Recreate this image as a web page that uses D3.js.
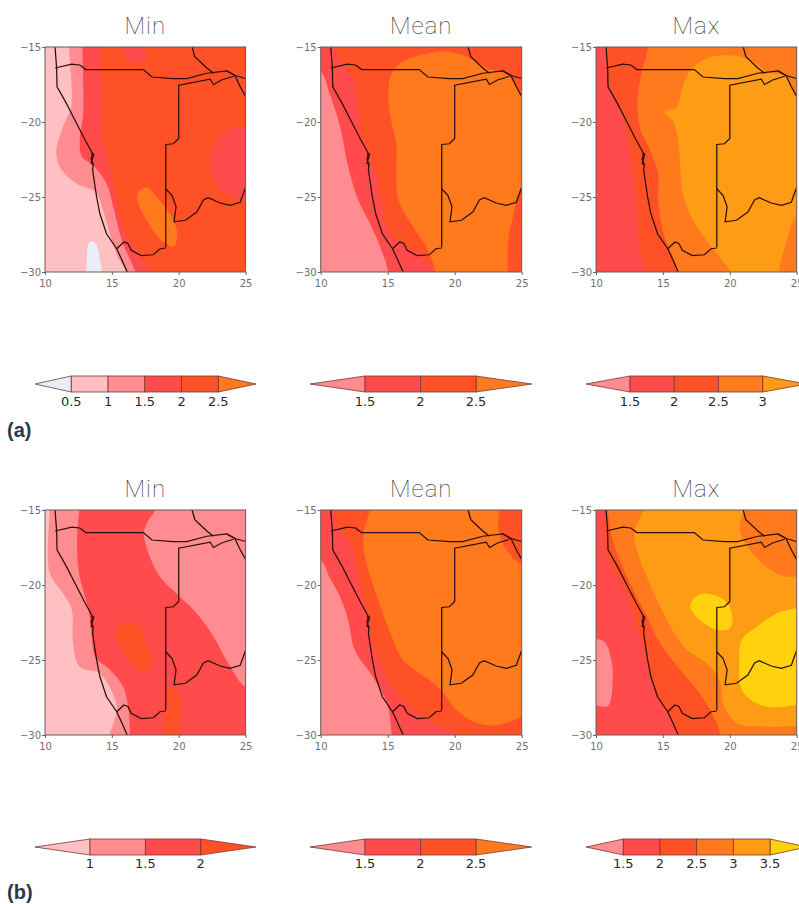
<!DOCTYPE html>
<html lang="en-US">
<head>
    <meta charset="UTF-8">
    <title>Min Mean Max maps</title>
    <style>
    html, body {margin: 0; padding: 0; background: #fff; overflow: hidden;}
    .tick text, .axis text {font-family: "DejaVu Sans", sans-serif; font-size: 10px; fill: #707070;}
    .title {font-family: "Roboto", sans-serif; font-size: 24px; font-weight: 100; fill: #333; text-anchor: middle; letter-spacing: 1px;}
    .barlabel {font-family: "DejaVu Sans", sans-serif; font-size: 13px; fill: #2a2a2a; text-anchor: middle;}
    .tag {font-family: "Liberation Sans", sans-serif; font-size: 20px; font-weight: bold; fill: #2b3a4a;}
    </style>
</head>
<body>
<script src="https://d3js.org/d3.v7.min.js"></script>
<script>
// colour classes, degrees of change
const thresholds = [0.5, 1, 1.5, 2, 2.5, 3, 3.5];
const classColors = ["#e9eef8", "#ffc0c4", "#ff8c90", "#ff4b4b", "#ff5128", "#ff7a1e", "#ff9c14", "#ffd20a"];

const lonTicks = [10, 15, 20, 25];
const latTicks = [-15, -20, -25, -30];
const titles = ["Min", "Mean", "Max"];

// country borders, lon/lat
const coast = [[10.75,-15],[10.87,-16.4],[10.9,-17.65],[11.6,-18.76],[12.25,-19.9],[13,-21.2],[13.56,-22.1],[13.45,-22.5],[13.6,-22.8],[13.56,-23.2],[13.86,-25],[14.1,-26.1],[14.6,-27.45],[15.36,-28.45],[15.7,-29.1],[16.15,-30]];
const walvisBay = [[13.45,-22.1],[13.65,-22.15],[13.45,-22.75],[13.65,-22.85]];
const angolaBorder = [[10.75,-16.4],[12,-16.15],[12.6,-16.2],[13.05,-16.5],[16.85,-16.5],[17.35,-16.5],[18,-17],[19.6,-17.1],[20.6,-17.1],[22.1,-16.75],[23.6,-16.6],[24.2,-16.9],[25,-17.1]];
const zambiaBorder = [[21,-15],[21.2,-15.65],[22.1,-16.4],[22.6,-16.75]];
const zambezi = [[23.6,-16.6],[24.2,-16.9],[24.6,-17.65],[25,-18.3]];
const botswanaBorder = [[24.1,-16.95],[23.2,-17.2],[22.6,-17.5],[22.35,-17.15],[20,-17.55],[20,-21.1],[19.6,-21.45],[19.03,-21.5],[19.03,-28.35]];
const kalahariBorder = [[19.03,-24.45],[19.5,-24.9],[19.8,-25.65],[19.65,-26.65],[20.5,-26.55],[21.35,-26],[21.85,-25.2],[22.2,-25.05],[23.1,-25.4],[23.85,-25.55],[24.6,-25.35],[25,-24.35]];
const orangeRiver = [[15.36,-28.45],[15.9,-28],[16.2,-28.1],[16.45,-28.55],[17.2,-28.9],[18.1,-28.85],[18.6,-28.45],[19.03,-28.4]];
const borders = [coast, walvisBay, angolaBorder, zambiaBorder, zambezi, botswanaBorder, kalahariBorder, orangeRiver];

// filled areas per panel: v = value inside the area, painted in order on top of the base value
const minA = [
    {v: 2.25, base: true},
    {v: 1.75, pts: [[9,-14],[14.1,-14],[14.1,-15],[14.25,-18.55],[14.25,-20.75],[15,-23.65],[15.6,-26.35],[16.25,-27.9],[17.1,-29],[18,-30],[18.4,-31],[9,-31]]},
    {v: 1.75, pts: [[26,-20.3],[25,-20.3],[23.6,-20.55],[22.6,-21.65],[22.35,-23],[23.1,-24.55],[25,-25.2],[26,-25.2]]},
    {v: 1.75, pts: [[16,-14],[17.35,-14],[17.35,-15],[17.6,-15.65],[16.6,-16.1],[16,-15.65]]},
    {v: 1.25, pts: [[9,-14],[12.8,-14],[12.8,-15],[12.85,-19.45],[12.6,-21.2],[12.75,-22.3],[13.6,-22.9],[14.6,-24.1],[15.1,-25.65],[15.75,-27.9],[16.75,-30],[17,-31],[9,-31]]},
    {v: 0.75, pts: [[9,-14],[11.8,-14],[11.8,-15],[11.95,-19],[11.35,-20.3],[10.85,-21.9],[11.1,-23],[12.35,-24.1],[13.75,-24.65],[14.35,-25.9],[14.85,-27.45],[15.35,-28.8],[16.05,-30],[16.3,-31],[9,-31]]},
    {v: 0.25, pts: [[13.1,-31],[13.1,-30],[13.35,-28],[13.8,-28.1],[14.15,-29.45],[14.25,-30],[14.25,-31]]},
    {v: 2.75, pts: [[17,-24.65],[17.6,-24.35],[18.35,-25],[19.6,-26.55],[19.9,-27.65],[19.6,-28.3],[18.85,-28],[17.6,-26.55],[16.9,-25.2]]}
];
const meanA = [
    {v: 2.25, base: true},
    {v: 2.75, pts: [[15.05,-18.3],[15.2,-17],[15.9,-16.1],[17.4,-15.55],[19.4,-15.3],[20.9,-15.65],[22.4,-16.4],[23.9,-16.85],[25,-18.2],[26,-19],[26,-24],[25,-24.35],[24.4,-26.1],[24,-27.9],[23.95,-30],[23.95,-31],[18.6,-31],[18.55,-30],[17.9,-28.35],[16.9,-27],[15.8,-25.2],[15.65,-23],[15.65,-21.45],[15.3,-20.1]]},
    {v: 1.75, pts: [[9,-14],[10.9,-14],[10.9,-15],[11.3,-15.65],[12.55,-17.4],[12.8,-19.2],[13.05,-21.2],[14.2,-23.65],[14.55,-25.65],[15.4,-27.65],[17.4,-28.8],[18.55,-30],[18.55,-31],[9,-31]]},
    {v: 1.25, pts: [[9,-16.5],[10,-16.65],[10.7,-18.2],[11.45,-20.3],[12.05,-23],[12.8,-25.2],[13.8,-27],[14.45,-28.35],[15.05,-30],[15.05,-31],[9,-31]]}
];
const maxA = [
    {v: 2.75, base: true},
    {v: 3.25, pts: [[15.15,-19.3],[16.05,-19],[16.4,-17.85],[17.05,-16.55],[18.3,-15.75],[19.8,-15.55],[21.5,-15.85],[22.75,-16.65],[24.25,-17],[25,-18.3],[26,-19],[26,-25],[25,-26.1],[24.25,-27.9],[23.65,-30],[23.65,-31],[20.05,-31],[20.05,-30],[19.05,-28.8],[17.55,-27],[16.55,-25],[16.3,-23],[16.15,-21.2],[15.8,-20]]},
    {v: 2.25, pts: [[9,-14],[13.9,-14],[13.9,-15],[13.4,-16.75],[13.1,-18.55],[13.25,-20.3],[14.05,-21.9],[14.65,-23.45],[14.65,-25.2],[15.05,-27.45],[15.65,-28.8],[16.15,-30],[16.15,-31],[9,-31]]},
    {v: 1.75, pts: [[9,-14],[10.8,-14],[10.8,-15],[10.9,-17.45],[11.65,-18.55],[12.3,-20.75],[12.65,-23],[13.05,-25.65],[13.15,-27.9],[13.65,-30],[13.65,-31],[9,-31]]}
];
const minB = [
    {v: 1.25, base: true},
    {v: 1.75, pts: [[12.55,-14],[12.55,-15],[12.4,-16.8],[12.5,-19],[12.85,-20.35],[13.25,-21.65],[13.5,-23.45],[13.75,-24.8],[14.85,-25.65],[15.85,-26.8],[16.25,-28.35],[16.35,-30],[16.35,-31],[26,-31],[26,-26.8],[25,-26.8],[23.85,-25.45],[22.6,-23.45],[21.35,-21.9],[20.1,-20.8],[18.6,-19.45],[17.75,-17.9],[17.4,-16.55],[17.75,-15.65],[18.25,-15],[18.25,-14]]},
    {v: 0.75, pts: [[9,-14],[10.35,-14],[10.35,-15],[10.35,-19.2],[11.35,-20.55],[12,-21.65],[12.1,-23.9],[12.6,-25.45],[14.1,-25.9],[15.25,-27.65],[15.35,-28.45],[14.85,-30],[14.85,-31],[9,-31]]},
    {v: 2.25, pts: [[15.25,-23.2],[16.1,-22.45],[17.1,-22.8],[17.75,-24.35],[18,-25.45],[16.85,-25.65],[15.85,-24.35]]},
    {v: 2.25, pts: [[19.35,-26.8],[19.95,-27.2],[20.2,-28.8],[19.95,-30],[19.95,-31],[18.7,-31],[18.85,-30],[19,-28.35]]}
];
const meanB = [
    {v: 2.75, base: true},
    {v: 2.25, pts: [[9,-14],[13.65,-14],[13.65,-15],[13.2,-16.55],[13.3,-18.1],[14.2,-20.8],[15.2,-23.2],[16.15,-25],[18.15,-26.35],[19.15,-27.2],[20.15,-28.35],[21.65,-29.2],[23.15,-29.35],[25,-28.8],[26,-28.5],[26,-31],[9,-31]]},
    {v: 2.25, pts: [[23.35,-14],[23.35,-15],[23.25,-16.1],[23.65,-17.35],[25,-18.65],[26,-18.7],[26,-14]]},
    {v: 1.75, pts: [[9,-14],[10.95,-14],[10.95,-15],[11.3,-16.1],[12.3,-17.45],[12.8,-19.65],[13.45,-21.9],[14.05,-24.35],[14.9,-26.1],[16.3,-27.9],[17.65,-28.8],[19.4,-29.65],[20.4,-30],[20.4,-31],[9,-31]]},
    {v: 1.25, pts: [[9,-18],[10,-18.35],[10.7,-19.55],[11.45,-20.8],[12.05,-22.35],[12.55,-24.35],[13.95,-26.2],[14.95,-27.9],[15.3,-30],[15.3,-31],[9,-31]]}
];
const maxB = [
    {v: 3.25, base: true},
    {v: 2.75, pts: [[9,-14],[13.55,-14],[13.55,-15],[12.9,-16.35],[13.05,-17.65],[13.8,-19.45],[15.05,-21.9],[16.55,-24.1],[18.55,-25.45],[19.3,-26.55],[19.5,-27.9],[20.5,-29.2],[22.75,-29.45],[25,-29.4],[26,-29.4],[26,-31],[9,-31]]},
    {v: 2.75, pts: [[21,-14],[21,-15],[20.75,-16.35],[21.5,-17.65],[22.75,-18.8],[24,-19.4],[25,-19.45],[26,-19.45],[26,-14]]},
    {v: 2.25, pts: [[9,-14],[10.9,-14],[10.9,-15],[11.3,-17.2],[12.55,-19.9],[13.8,-22.1],[14.8,-23.9],[16.3,-25.65],[17.55,-27],[18.55,-28.35],[19.3,-30],[19.3,-31],[9,-31]]},
    {v: 1.75, pts: [[9,-14],[10.55,-14],[10.55,-15],[10.8,-17.9],[12.3,-20.55],[13.15,-23],[13.8,-24.8],[14.3,-26.8],[15.15,-28.35],[16.15,-30],[16.15,-31],[9,-31]]},
    {v: 3.75, pts: [[17.05,-21.45],[17.65,-20.65],[18.8,-20.65],[19.8,-21.2],[20.2,-22.2],[20,-22.9],[19.05,-23],[17.8,-22.35]]},
    {v: 3.75, pts: [[26,-21.5],[25,-21.55],[23.5,-21.9],[22,-22.8],[20.9,-23.65],[20.7,-25.45],[20.9,-27],[22,-27.9],[23.5,-28.15],[25,-28],[26,-28]]},
    {v: 1.25, pts: [[9,-23.6],[10,-23.6],[10.65,-23.8],[11.15,-25],[11.25,-26.1],[10.9,-28.05],[10,-28.05],[9,-28]]}
];

// colour bar levels
const barMinA = [0.5, 1, 1.5, 2, 2.5];
const barMeanA = [1.5, 2, 2.5];
const barMaxA = [1.5, 2, 2.5, 3];
const barMinB = [1, 1.5, 2];
const barMeanB = [1.5, 2, 2.5];
const barMaxB = [1.5, 2, 2.5, 3, 3.5];

var width = 799, height = 904;

var svg = d3.select("body").append("svg")
    .attr("width", width)
    .attr("height", height)
    .style("display", "block");

var defs = svg.append("defs");
defs.append("filter").attr("id", "soft")
    .attr("x", "-5%").attr("y", "-5%").attr("width", "110%").attr("height", "110%")
    .append("feGaussianBlur").attr("stdDeviation", 0.55);

var color = d3.scaleThreshold().domain(thresholds).range(classColors);

var columns = [{x0: 45, x1: 245.6}, {x0: 320.7, x1: 521.7}, {x0: 596, x1: 796.7}];
var rows = [
    {y0: 47, y1: 272, barY: 384, labelY: 406, tag: "(a)", tagY: 437},
    {y0: 510, y1: 735, barY: 847, labelY: 868, tag: "(b)", tagY: 899}
];

function drawPanel(regions, col, row, title, id) {
    var x = d3.scaleLinear().domain([10, 25]).range([col.x0, col.x1]);
    var y = d3.scaleLinear().domain([-15, -30]).range([row.y0, row.y1]);

    defs.append("clipPath").attr("id", "clip" + id)
        .append("rect")
        .attr("x", col.x0).attr("y", row.y0)
        .attr("width", col.x1 - col.x0).attr("height", row.y1 - row.y0);

    var area = d3.line()
        .x(function(d) { return x(d[0]); })
        .y(function(d) { return y(d[1]); })
        .curve(d3.curveCatmullRomClosed.alpha(0.5));

    var border = d3.line()
        .x(function(d) { return x(d[0]); })
        .y(function(d) { return y(d[1]); });

    var clip = svg.append("g").attr("clip-path", "url(#clip" + id + ")");
    var g = clip.append("g").attr("filter", "url(#soft)");

    regions.forEach(function(r) {
        if (r.base) {
            g.append("rect")
                .attr("x", col.x0 - 5).attr("y", row.y0 - 5)
                .attr("width", col.x1 - col.x0 + 10).attr("height", row.y1 - row.y0 + 10)
                .attr("fill", color(r.v));
        } else {
            g.append("path").attr("d", area(r.pts)).attr("fill", color(r.v));
        }
    });

    g.selectAll("path.border")
        .data(borders)
        .enter().append("path")
        .attr("class", "border")
        .attr("d", border)
        .attr("fill", "none")
        .attr("stroke", "#2a0f08")
        .attr("stroke-width", 1.25);

    svg.append("rect")
        .attr("x", col.x0).attr("y", row.y0)
        .attr("width", col.x1 - col.x0).attr("height", row.y1 - row.y0)
        .attr("fill", "none")
        .attr("stroke", "#6a5a58")
        .attr("stroke-width", 1);

    var xAxis = svg.append("g")
        .attr("class", "axis")
        .attr("transform", "translate(0," + row.y1 + ")")
        .call(d3.axisBottom(x).tickValues(lonTicks).tickSize(3).tickPadding(5));
    var yAxis = svg.append("g")
        .attr("class", "axis")
        .attr("transform", "translate(" + col.x0 + ",0)")
        .call(d3.axisLeft(y).tickValues(latTicks).tickSize(3).tickPadding(1));
    [xAxis, yAxis].forEach(function(a) {
        a.select(".domain").remove();
        a.selectAll("line").attr("stroke", "#666");
    });

    svg.append("text")
        .attr("class", "title")
        .attr("x", (col.x0 + col.x1) / 2)
        .attr("y", row.y0 - 13)
        .text(title);
}

function drawBar(levels, layout, row) {
    var x = d3.scalePoint().domain(levels).range([layout.x0, layout.x1]);
    var top = row.barY - 8, bottom = row.barY + 8;
    var outline = "#7a3a30";
    var g = svg.append("g");

    g.append("path")
        .attr("d", d3.line()([[layout.x0, top], [layout.tipL, row.barY], [layout.x0, bottom]]) + "Z")
        .attr("fill", color(levels[0] - 0.25))
        .attr("stroke", outline).attr("stroke-width", 0.8);
    g.append("path")
        .attr("d", d3.line()([[layout.x1, top], [layout.tipR, row.barY], [layout.x1, bottom]]) + "Z")
        .attr("fill", color(levels[levels.length - 1] + 0.25))
        .attr("stroke", outline).attr("stroke-width", 0.8);

    g.selectAll("rect")
        .data(levels.slice(0, -1))
        .enter().append("rect")
        .attr("x", function(d) { return x(d); })
        .attr("y", top)
        .attr("width", x.step())
        .attr("height", bottom - top)
        .attr("fill", function(d) { return color(d + 0.25); })
        .attr("stroke", outline)
        .attr("stroke-width", 0.8);

    g.selectAll("text")
        .data(levels)
        .enter().append("text")
        .attr("class", "barlabel")
        .attr("x", function(d) { return x(d); })
        .attr("y", row.labelY)
        .text(function(d) { return d; });
}

var panels = [[minA, meanA, maxA], [minB, meanB, maxB]];
panels.forEach(function(list, r) {
    list.forEach(function(regions, c) {
        drawPanel(regions, columns[c], rows[r], titles[c], r + "_" + c);
    });
});

drawBar(barMinA, {tipL: 35, x0: 71.3, x1: 218.3, tipR: 256}, rows[0]);
drawBar(barMeanA, {tipL: 310, x0: 365, x1: 476, tipR: 531.7}, rows[0]);
drawBar(barMaxA, {tipL: 586, x0: 630, x1: 762.7, tipR: 807}, rows[0]);
drawBar(barMinB, {tipL: 35, x0: 90, x1: 200.7, tipR: 256}, rows[1]);
drawBar(barMeanB, {tipL: 310, x0: 365, x1: 476, tipR: 531.7}, rows[1]);
drawBar(barMaxB, {tipL: 586, x0: 623.3, x1: 770, tipR: 807}, rows[1]);

rows.forEach(function(row) {
    svg.append("text")
        .attr("class", "tag")
        .attr("x", 7)
        .attr("y", row.tagY)
        .text(row.tag);
});
</script>
</body>
</html>
